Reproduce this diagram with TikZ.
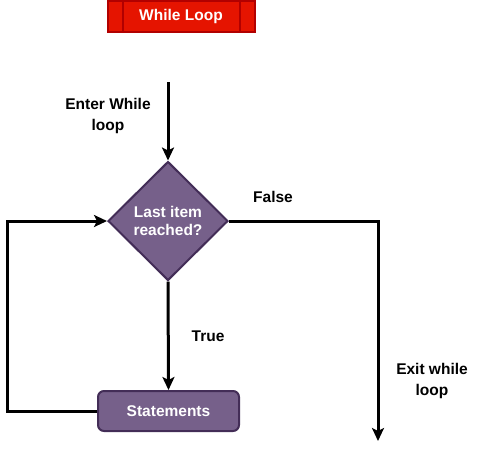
\documentclass[tikz,border=0pt]{standalone}
\usepackage{fontspec}
\setmainfont{Liberation Sans}
\usetikzlibrary{shapes.geometric}
\usetikzlibrary{arrows.meta}
\usetikzlibrary{calc}

\definecolor{titlered}{HTML}{E51400}
\definecolor{titleline}{HTML}{B20000}
\definecolor{stepfill}{HTML}{76608A}
\definecolor{stepline}{HTML}{432D57}

\tikzset{
  flow/.style={line width=3pt, -{Stealth[length=13pt,width=12pt,inset=3pt]}},
  txt/.style={font=\fontsize{15.5}{21}\selectfont\bfseries, align=center},
  decision/.style={diamond, draw=stepline, fill=stepfill, line width=2pt,
    minimum width=120pt, minimum height=119pt, inner sep=0pt, text=white,
    font=\fontsize{15.5}{18}\selectfont\bfseries, align=center},
  stepbox/.style={rectangle, rounded corners=6pt, draw=stepline, fill=stepfill,
    line width=2pt, minimum width=141pt, minimum height=40pt, text=white,
    font=\fontsize{15.5}{18}\selectfont\bfseries},
  titlebox/.style={rectangle, draw=titleline, fill=titlered, line width=2pt,
    minimum width=147pt, minimum height=31pt, text=white,
    font=\fontsize{15.5}{18}\selectfont\bfseries}
}

\begin{document}
\begin{tikzpicture}[x=1pt,y=-1pt]
  \useasboundingbox (0,0) rectangle (489,451);

  % title bar
  \node[titlebox] (title) at (181,16.5) {While Loop};
  \draw[titleline, line width=2pt] ($(title.north west)+(16,0)$) -- ($(title.south west)+(16,0)$);
  \draw[titleline, line width=2pt] ($(title.north east)+(-16,0)$) -- ($(title.south east)+(-16,0)$);

  % nodes
  \coordinate (start) at (168,82);
  \node[decision] (cond) at (168,221) {Last item\\reached?};
  \node[stepbox] (stmt) at (168.5,411) {Statements};
  \coordinate (exit) at (378,441);

  % labels
  \node[txt] (enterlbl) at (108,116) {Enter While\\loop};
  \node[txt] (falselbl) at (273,197) {False};
  \node[txt] (truelbl) at (208,336) {True};
  \node[txt] (exitlbl) at (432,381) {Exit while\\loop};

  % connectors
  \draw[flow] (start) -- (cond.north);
  \draw[flow] (cond.south) -- (stmt.north);
  \draw[flow] (stmt.west) -- ++(-90,0) |- (cond.west);
  \draw[flow] (cond.east) -| (exit);
\end{tikzpicture}
\end{document}
